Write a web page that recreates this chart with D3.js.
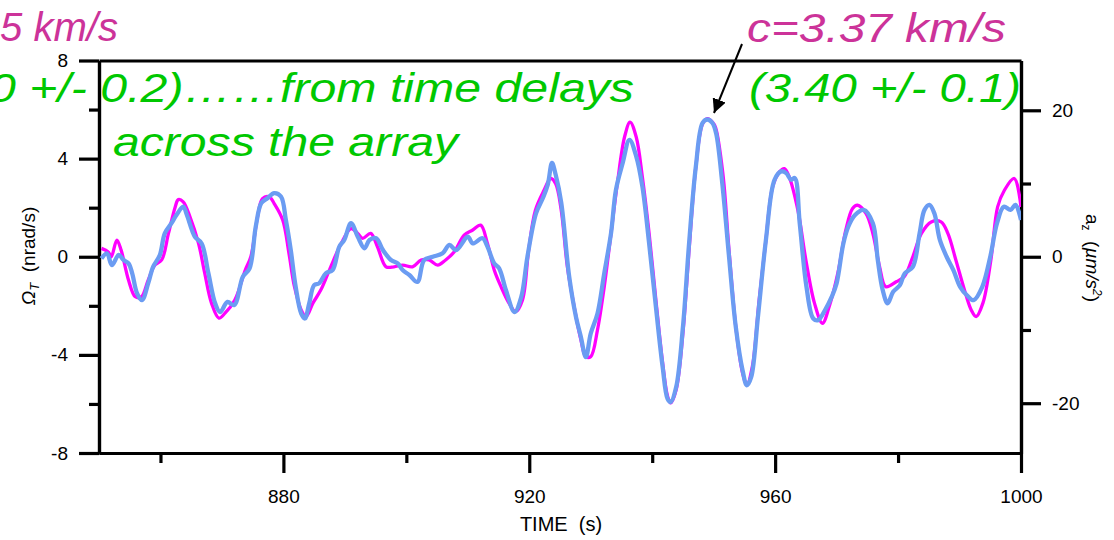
<!DOCTYPE html>
<html><head><meta charset="utf-8">
<script src="https://cdn.jsdelivr.net/npm/d3@7"></script>
<style>
html,body{margin:0;padding:0;background:#fff;}
svg{display:block;font-family:"Liberation Sans",Arial,sans-serif;}
</style></head>
<body><svg id="c" width="1114" height="540"></svg>
<script>
// ---- data ----
const timeOmega = [850.4,851.5,852.0,852.9,853.6,854.8,855.9,856.9,858.0,859.1,860.2,861.3,862.4,862.9,863.7,864.8,866.2,867.2,868.3,869.5,870.5,872.1,873.8,874.7,875.8,876.6,877.7,878.5,879.9,880.9,881.8,882.9,883.7,884.8,886.1,887.7,889.4,891.0,892.1,892.9,894.2,895.3,896.7,898.0,899.4,901.0,902.4,903.7,905.1,906.4,907.8,909.4,910.8,912.1,913.2,914.3,915.4,916.7,917.8,918.9,919.9,921.0,922.4,923.5,924.3,925.2,926.2,927.3,928.4,929.2,930.0,931.1,932.2,933.3,934.4,935.5,936.4,937.4,938.4,939.5,940.6,941.7,942.5,943.0,943.9,945.0,946.0,947.1,948.2,949.0,949.8,950.3,951.5,952.5,953.6,954.7,955.4,956.3,957.4,958.5,959.6,960.7,961.5,962.3,963.7,965.0,966.4,967.7,968.8,970.2,971.5,972.6,973.4,974.8,975.9,977.0,978.0,979.7,981.0,982.4,983.8,985.4,987.0,988.1,989.4,990.8,991.9,992.7,993.8,995.1,996.2,997.3,998.9,1000.0];
const omegaT = [0.34,0.2,0,0.68,0.27,-0.95,-1.63,-1.63,-0.95,-0.34,-0.13,0.95,2.03,2.33,2.24,1.63,0.54,-0.67,-1.89,-2.5,-2.3,-1.76,-0.54,0,1.63,2.37,2.44,2.17,1.49,0.14,-1.22,-2.17,-2.44,-1.89,-1.35,-0.41,0.54,1.15,0.95,0.75,0.95,0.41,-0.41,-0.41,-0.34,-0.41,-0.13,-0.13,-0.34,-0.13,0.2,0.88,1.09,1.29,0.54,-0.54,-1.22,-1.89,-2.24,-1.76,0.27,1.9,2.71,3.19,2.98,1.9,-0.41,-2.03,-3.39,-4.07,-4.07,-2.98,-1.22,0.95,3.12,4.88,5.49,4.88,3.25,0.95,-1.76,-4.33,-5.69,-5.96,-5.42,-3.11,0.27,3.66,5.42,5.63,5.49,5.28,3.39,0.27,-2.85,-4.74,-5.21,-4.47,-1.76,0.68,2.85,3.46,3.59,3.25,1.9,-0.13,-1.89,-2.71,-2.03,-0.67,1.09,1.97,2.1,1.76,0.95,-0.41,-1.22,-1.02,-0.81,0,0.95,1.42,1.42,0.95,-0.13,-1.35,-2.17,-2.44,-1.89,-0.13,2.03,2.71,3.19,2.03];

const timeAccel = [850.4,851.3,852.1,853.2,854.0,854.8,855.4,856.2,857.0,858.0,858.8,859.9,860.7,861.8,862.6,863.7,864.3,865.6,866.7,867.8,868.9,869.7,870.9,872.0,873.4,874.5,875.5,876.4,877.4,878.5,879.6,880.4,881.2,882.0,882.9,883.5,884.2,885.0,885.8,886.9,888.0,889.1,889.9,891.0,892.1,893.2,894.0,895.1,896.2,897.5,898.6,899.4,900.5,901.8,902.9,904.3,905.9,907.0,908.1,910.0,910.8,912.4,913.2,914.3,915.1,916.2,917.6,918.7,919.7,921.1,922.2,923.0,923.7,924.3,925.2,926.5,927.6,928.4,929.2,930.0,931.1,932.2,933.3,934.1,935.2,936.3,937.4,938.4,939.5,940.6,941.7,942.5,943.0,943.9,945.0,946.0,947.1,948.2,949.0,949.8,950.4,951.4,952.5,953.6,954.7,955.4,956.1,957.2,958.5,959.9,961.0,961.8,962.6,963.2,964.0,965.1,966.2,967.0,968.1,969.2,970.0,971.1,971.9,973.0,974.4,975.9,976.7,977.5,978.3,979.2,980.3,981.1,982.4,983.5,984.3,985.1,985.9,986.8,987.9,989.0,990.1,991.2,992.3,993.7,995.0,996.1,997.2,998.3,999.1,1000.0];
const accelZ = [-0.24,0.47,-1.15,0.24,-0.44,-0.91,-2.26,-5.02,-5.93,-3.64,-1.38,0.24,3.2,4.58,5.7,6.84,5.7,2.73,1.82,-2.26,-6.37,-7.55,-6.17,-6.61,-2.73,-1.58,4.11,7.31,7.99,8.69,8.22,5.02,0.91,-4.11,-7.75,-8.43,-6.37,-3.88,-3.64,-2.26,-1.82,1.38,2.29,4.58,2.73,1.15,2.29,2.53,0.91,-0.44,-0.91,-1.82,-2.49,-3.44,-0.44,0,0.47,1.62,0.91,2.73,1.82,2.53,1.38,-0.91,-1.58,-4.55,-7.55,-5.49,0,5.93,7.99,9.81,12.81,11.19,7.41,-2.73,-8.22,-10.95,-13.72,-10.48,-7.75,-2.26,3.2,9.13,12.81,15.97,13.72,9.6,1.82,-6.84,-15.06,-19.41,-19.85,-17.79,-9.6,1.82,12.33,18.27,18.74,18.27,16.85,10.04,0,-9.6,-15.5,-17.56,-16.45,-8.22,2.29,10.51,11.66,11.42,10.51,10.75,4.58,-4.11,-8.43,-8.66,-7.31,-5.49,-3.64,1.82,4.11,5.7,6.4,4.58,-0.44,-4.55,-6.37,-4.79,-3.88,-2.26,-1.38,3.2,6.4,7.08,5.93,2.29,0,-1.82,-4.11,-5.26,-5.93,-4.11,0,4.58,6.84,6.4,7.08,5.02];

const xMajorTicks = [880,920,960,1000];
const xMinorTicks = [860,900,940,980];
const yLeftMajor = [-8,-4,0,4,8];
const yLeftMinor = [-6,-2,2,6];
const yRightMajor = [-20,0,20];
const yRightMinor = [-10,10];

// ---- drawing ----
const svg = d3.select("#c");
const L = 99, R = 1021, T = 60.5, B = 453;
const x = d3.scaleLinear().domain([850,1000]).range([L,R]);
const yL = d3.scaleLinear().domain([-8,8]).range([B,T]);
const yR = d3.scaleLinear().domain([-26.8,26.8]).range([B,T]);

const axW = 3.2, tickFont = "19px";
function styleAxis(g){
  g.selectAll("path.domain").attr("stroke","#000").attr("stroke-width",axW);
  g.selectAll(".tick line").attr("stroke","#000").attr("stroke-width",axW);
  g.selectAll(".tick text").attr("fill","#000").style("font-size",tickFont).style("font-family",'"Liberation Sans",Arial,sans-serif');
}
// minor ticks
svg.append("g").attr("transform",`translate(${L},0)`)
  .call(d3.axisLeft(yL).tickValues(yLeftMinor).tickSize(10).tickFormat("").tickSizeOuter(0)).call(styleAxis);
svg.append("g").attr("transform",`translate(${R},0)`)
  .call(d3.axisRight(yR).tickValues(yRightMinor).tickSize(10).tickFormat("").tickSizeOuter(0)).call(styleAxis);
svg.append("g").attr("transform",`translate(0,${B})`)
  .call(d3.axisBottom(x).tickValues(xMinorTicks).tickSize(10).tickFormat("").tickSizeOuter(0)).call(styleAxis);
// major
svg.append("g").attr("transform",`translate(${L},0)`)
  .call(d3.axisLeft(yL).tickValues(yLeftMajor).tickSize(20).tickPadding(11).tickFormat(d3.format("d")).tickSizeOuter(0)).call(styleAxis);
svg.append("g").attr("transform",`translate(${R},0)`)
  .call(d3.axisRight(yR).tickValues(yRightMajor).tickSize(20).tickPadding(11).tickFormat(d3.format("d")).tickSizeOuter(0)).call(styleAxis);
svg.append("g").attr("transform",`translate(0,${B})`)
  .call(d3.axisBottom(x).tickValues(xMajorTicks).tickSize(20).tickPadding(17).tickFormat(d3.format("d")).tickSizeOuter(0)).call(styleAxis);
svg.append("g").attr("transform",`translate(0,${T})`)
  .call(d3.axisTop(x).tickValues([]).tickSizeOuter(0)).call(styleAxis);

svg.selectAll(".tick text").text(function(){return d3.select(this).text().replace("\u2212","-");});

// curves
svg.append("clipPath").attr("id","pc").append("rect")
  .attr("x",L).attr("y",T-10).attr("width",R-L).attr("height",B-T+20);
const lineM = d3.line().x((d,i)=>x(timeOmega[i])).y(d=>yL(d)).curve(d3.curveCatmullRom.alpha(0.5));
const lineB = d3.line().x((d,i)=>x(timeAccel[i])).y(d=>yR(d)).curve(d3.curveCatmullRom.alpha(0.5));
const gl = svg.append("g").attr("clip-path","url(#pc)");
gl.append("path").datum(omegaT).attr("d",lineM).attr("fill","none")
  .attr("stroke","#ff00ff").attr("stroke-width",3.3).attr("stroke-linejoin","round");
gl.append("path").datum(accelZ).attr("d",lineB).attr("fill","none")
  .attr("stroke","#6b9cf2").attr("stroke-width",4.3).attr("stroke-linejoin","round");

// axis titles
svg.append("text").attr("x",561).attr("y",531).attr("text-anchor","middle")
  .style("font-size","20px").style("white-space","pre").attr("xml:space","preserve").text("TIME  (s)");
const yt = svg.append("text").attr("transform","translate(35,256) rotate(-90)")
  .attr("text-anchor","middle").style("font-size","19px").attr("xml:space","preserve");
yt.append("tspan").style("font-style","italic").text("Ω");
yt.append("tspan").style("font-style","italic").style("font-size","13px").attr("dy",4).text("T");
yt.append("tspan").attr("dy",-4).text("  (nrad/s)");
const rt = svg.append("text").attr("transform","translate(1086,258) rotate(90)")
  .attr("text-anchor","middle").style("font-size","19px").attr("xml:space","preserve");
rt.append("tspan").text("a");
rt.append("tspan").style("font-size","12px").attr("dy",4).text("z");
rt.append("tspan").attr("dy",-4).text("  (");
rt.append("tspan").style("font-style","italic").text("µm/s");
rt.append("tspan").style("font-style","italic").style("font-size","12px").attr("dy",-7).text("2");
rt.append("tspan").attr("dy",7).text(")");

// annotations
const annot = (t,xx,yy,col,len)=>svg.append("text").attr("x",xx).attr("y",yy)
  .attr("fill",col).style("font-size","40px").style("font-style","italic")
  .attr("textLength",len).attr("lengthAdjust","spacingAndGlyphs").text(t);
annot("5 km/s",0,41,"#cc3399",118);
annot("c=3.37 km/s",747,42,"#cc3399",259);
annot("0 +/- 0.2)……from time delays",-11,102,"#00c800",645);
annot("across the array",113,156,"#00c800",345);
annot("(3.40 +/- 0.1)",749,102,"#00c800",272);

// arrow
const defs = svg.append("defs");
defs.append("marker").attr("id","ah").attr("viewBox","0 0 10 10").attr("refX",10).attr("refY",5)
  .attr("markerWidth",7).attr("markerHeight",7).attr("orient","auto").attr("markerUnits","strokeWidth")
  .append("path").attr("d","M0,0 L10,5 L0,10 z").attr("fill","#000");
svg.append("line").attr("x1",742).attr("y1",44).attr("x2",714).attr("y2",113)
  .attr("stroke","#000").attr("stroke-width",2).attr("marker-end","url(#ah)");
</script></body></html>
